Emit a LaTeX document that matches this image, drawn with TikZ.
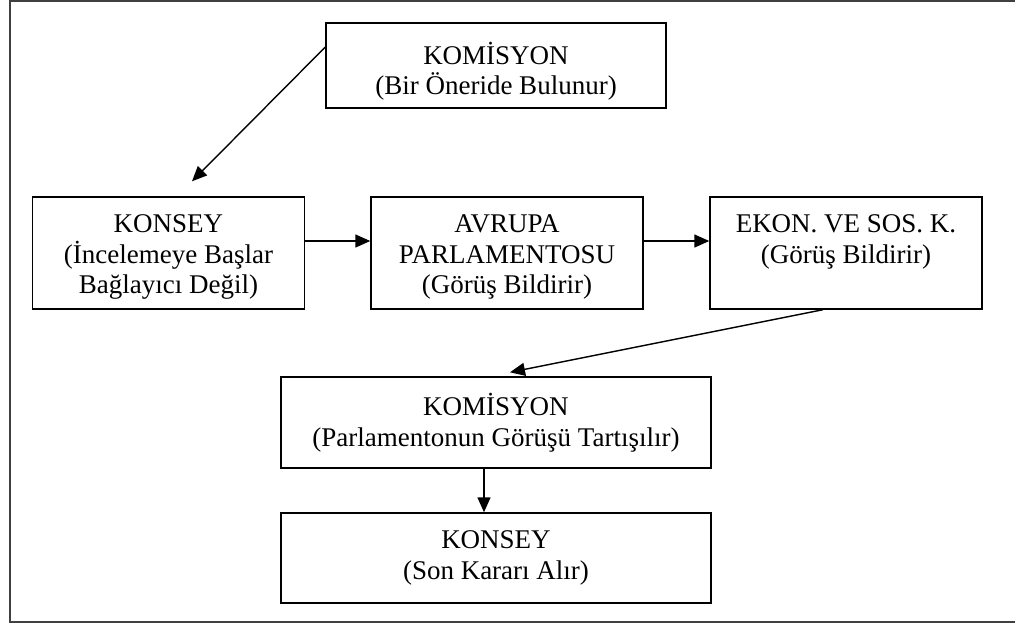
\documentclass[tikz,border=0pt]{standalone}
\usepackage{fontspec}
\setmainfont{Liberation Serif}
\usetikzlibrary{arrows.meta,positioning}

\begin{document}
\begin{tikzpicture}[x=1pt,y=-1pt,>={Triangle[length=15pt,width=13pt]},
	Arrow/.style={->,black,line width=1.4pt},
	Box/.style={rectangle,fill=white,draw=black,line width=1.4pt,align=center,inner sep=0pt,font=\fontsize{27}{30.5}\selectfont},
	WideBox/.style={Box,minimum width=272pt,minimum height=112pt},
]
	%\draw[help lines,step=50,gray!20] (0,0) grid (1015,625);
	\useasboundingbox (0,0) rectangle (1015,625);
	\draw[line width=2pt,black!75] (1017,1) -- (10,1) -- (10,622) -- (1017,622);

	\node[Box,minimum width=340pt,minimum height=85pt] (kom1) at (496,65.5) {\rule{0pt}{34pt}KOMİSYON\\(Bir Öneride Bulunur)};
	\node[WideBox] (konsey1) at (168.5,253) {\rule{0pt}{26pt}KONSEY\\(İncelemeye Başlar\\Bağlayıcı Değil)};
	\node[WideBox] (parl) at (507,253) {\rule{0pt}{26pt}AVRUPA\\PARLAMENTOSU\\(Görüş Bildirir)};
	\node[WideBox] (ekon) at (846,253) {\rule{0pt}{26pt}EKON. VE SOS. K.\\(Görüş Bildirir)\\\phantom{(}};
	\node[Box,minimum width=430pt,minimum height=91pt] (kom2) at (496,422.5) {KOMİSYON\\(Parlamentonun Görüşü Tartışılır)};
	\node[Box,minimum width=430pt,minimum height=90pt] (konsey2) at (496,558) {KONSEY\\(Son Kararı Alır)};

	\draw[Arrow] ([yshift=18.5pt]kom1.west) -- ([xshift=23.5pt,yshift=15pt]konsey1.north);
	\draw[Arrow] ([yshift=12pt]konsey1.east) -- ([yshift=12pt]parl.west);
	\draw[Arrow] ([yshift=12pt]parl.east) -- ([yshift=12pt]ekon.west);
	\draw[Arrow] ([xshift=-23pt]ekon.south) -- ([xshift=14pt,yshift=4pt]kom2.north);
	\draw[Arrow] ([xshift=-12pt]kom2.south) -- ([xshift=-12pt]konsey2.north);
\end{tikzpicture}
\end{document}
